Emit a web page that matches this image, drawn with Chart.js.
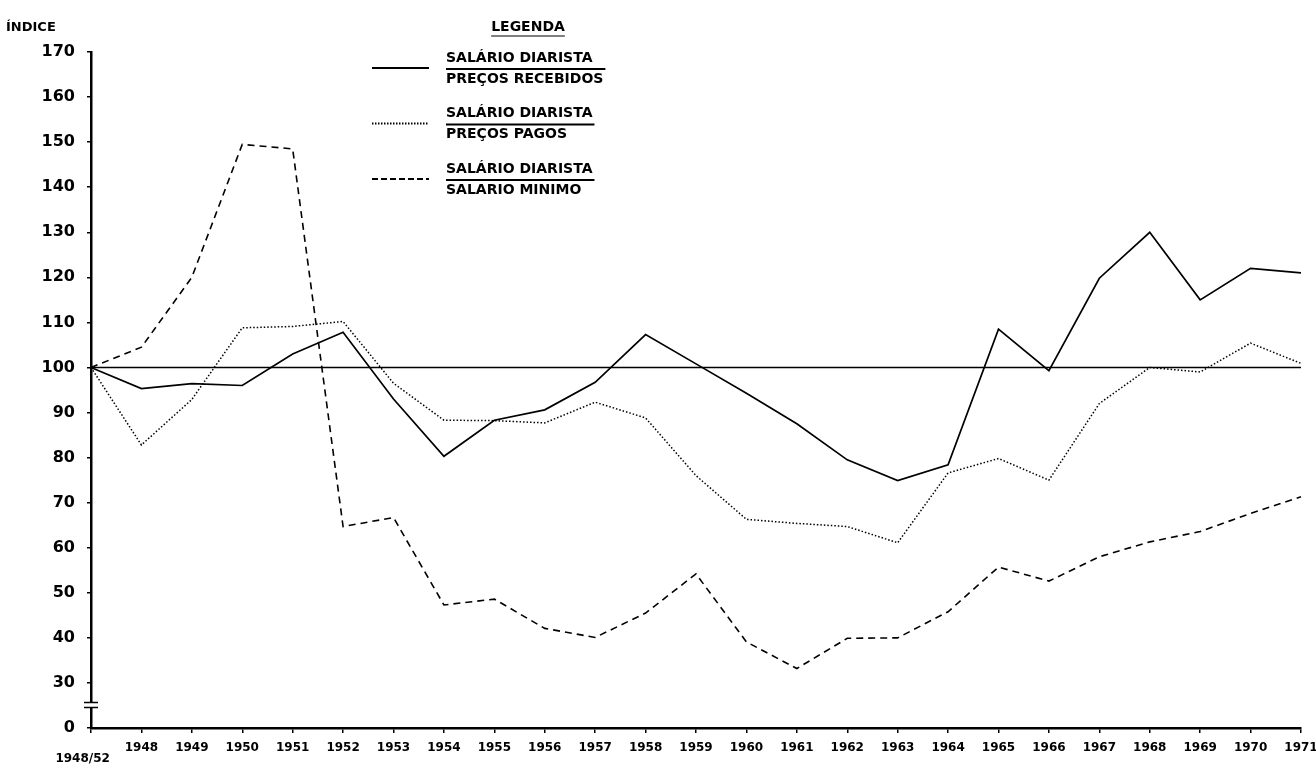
<!DOCTYPE html>
<html>
<head>
<meta charset="utf-8">
<script src="https://cdn.jsdelivr.net/npm/chart.js@4.4.1/dist/chart.umd.min.js"></script>
<style>
  html, body { margin: 0; padding: 0; background: #fff; }
  #wrap { width: 1316px; height: 770px; position: relative; }
</style>
</head>
<body>
<div id="wrap"><canvas id="grafico"></canvas></div>
<script>
// Índices (base 1948/52 = 100)
const anos = ['1948/52', '1948', '1949', '1950', '1951', '1952', '1953', '1954', '1955', '1956', '1957',
  '1958', '1959', '1960', '1961', '1962', '1963', '1964', '1965', '1966', '1967', '1968', '1969', '1970', '1971'];

const precosRecebidos = [100, 95.3, 96.4, 96, 103, 107.8, 93, 80.3, 88.3, 90.6, 96.7, 107.3, 100.8,
  94.3, 87.5, 79.5, 74.9, 78.4, 108.5, 99.3, 119.8, 130, 115, 122, 121];

const precosPagos = [100, 82.8, 92.9, 108.8, 109.1, 110.2, 96.5, 88.3, 88.2, 87.7, 92.3, 88.8, 76,
  66.3, 65.4, 64.7, 61.1, 76.6, 79.8, 75, 92, 100, 99, 105.4, 100.9];

const salarioMinimo = [100, 104.5, 120, 149.5, 148.5, 64.7, 66.7, 47.3, 48.6, 42.1, 40.1, 45.5, 54.2,
  39.1, 33.2, 39.9, 40, 45.8, 55.7, 52.6, 58, 61.3, 63.6, 67.6, 71.3];

// eixo quebrado: a posição 20 da escala é rotulada como 0
const yMin = 20;
const yMax = 170;
const linhaBase = 100;

const numeradores = ['SALÁRIO DIARISTA', 'SALÁRIO DIARISTA', 'SALÁRIO DIARISTA'];
const denominadores = ['PREÇOS RECEBIDOS', 'PREÇOS PAGOS', 'SALARIO MINIMO'];

const FONTE = "'DejaVu Sans', sans-serif";

// desenha base 100, quebra do eixo, título e legenda
const decoracao = {
  id: 'decoracao',
  beforeDatasetsDraw(chart) {
    const ctx = chart.ctx;
    const y = chart.scales.y.getPixelForValue(linhaBase);
    ctx.save();
    ctx.strokeStyle = '#000';
    ctx.lineWidth = 1.6;
    ctx.beginPath();
    ctx.moveTo(chart.chartArea.left, y);
    ctx.lineTo(chart.chartArea.right, y);
    ctx.stroke();
    ctx.restore();
  },
  afterDraw(chart) {
    const ctx = chart.ctx;
    const ax = chart.chartArea.left;
    const yq = chart.scales.y.getPixelForValue(25);
    ctx.save();
    // quebra do eixo
    ctx.fillStyle = '#fff';
    ctx.fillRect(ax - 3, yq - 2.5, 6, 5);
    ctx.strokeStyle = '#000';
    ctx.lineWidth = 1.5;
    ctx.beginPath();
    ctx.moveTo(ax - 7, yq - 3); ctx.lineTo(ax + 7, yq - 3);
    ctx.moveTo(ax - 7, yq + 2); ctx.lineTo(ax + 7, yq + 2);
    ctx.stroke();

    ctx.fillStyle = '#000';
    ctx.textBaseline = 'middle';
    ctx.textAlign = 'left';
    ctx.font = 'bold 13px ' + FONTE;
    ctx.fillText('ÍNDICE', 6, 28);

    // legenda
    ctx.font = 'bold 14px ' + FONTE;
    ctx.textAlign = 'center';
    ctx.fillText('LEGENDA', 528, 27);
    const wl = ctx.measureText('LEGENDA').width;
    ctx.lineWidth = 1.2;
    ctx.beginPath();
    ctx.moveTo(528 - wl / 2, 36); ctx.lineTo(528 + wl / 2, 36);
    ctx.stroke();

    ctx.textAlign = 'left';
    chart.data.datasets.forEach((ds, i) => {
      const yb = 68 + i * 55.5;
      ctx.setLineDash(i === 1 ? [1.5, 1.5] : (i === 2 ? [6, 3] : []));
      ctx.lineWidth = 2.2;
      ctx.beginPath();
      ctx.moveTo(372, yb); ctx.lineTo(429, yb);
      ctx.stroke();
      ctx.setLineDash([]);
      const tx = 446;
      ctx.fillText(numeradores[i], tx, yb - 10);
      ctx.fillText(denominadores[i], tx, yb + 11);
      const w = Math.max(ctx.measureText(numeradores[i]).width, ctx.measureText(denominadores[i]).width);
      ctx.lineWidth = 1.8;
      ctx.beginPath();
      ctx.moveTo(tx, yb + 1); ctx.lineTo(tx + w + 2, yb + 1);
      ctx.stroke();
    });
    ctx.restore();
  }
};

const canvas = document.getElementById('grafico');
new Chart(canvas.getContext('2d'), {
  type: 'line',
  data: {
    labels: anos.map((a, i) => i === 0 ? ['', a + '    '] : a),
    datasets: [
      {
        label: numeradores[0] + ' / ' + denominadores[0],
        data: precosRecebidos,
        borderColor: '#000',
        borderWidth: 1.7,
        borderDash: [],
        pointRadius: 0,
        tension: 0
      },
      {
        label: numeradores[1] + ' / ' + denominadores[1],
        data: precosPagos,
        borderColor: '#000',
        borderWidth: 1.5,
        borderDash: [1.5, 2],
        pointRadius: 0,
        tension: 0
      },
      {
        label: numeradores[2] + ' / ' + denominadores[2],
        data: salarioMinimo,
        borderColor: '#000',
        borderWidth: 1.6,
        borderDash: [7, 5],
        pointRadius: 0,
        tension: 0
      }
    ]
  },
  options: {
    responsive: true,
    maintainAspectRatio: false,
    animation: false,
    layout: { padding: { top: 52, right: 15, left: 0, bottom: 0 } },
    plugins: {
      legend: { display: false },
      title: { display: false },
      tooltip: { enabled: false }
    },
    scales: {
      x: {
        type: 'category',
        offset: false,
        border: { color: '#000', width: 2.5 },
        grid: { drawOnChartArea: false, drawTicks: true, tickLength: 5, color: '#000', lineWidth: 1.5 },
        ticks: {
          color: '#000',
          font: { family: FONTE, size: 12, weight: 'bold', lineHeight: 0.95 },
          padding: 9,
          maxRotation: 0,
          autoSkip: false
        },
        afterFit(s) {
          s.height = 42;
          s.paddingLeft = 0;
          s.paddingRight = 0;
        }
      },
      y: {
        min: yMin,
        max: yMax,
        border: { color: '#000', width: 2.5 },
        grid: { drawOnChartArea: false, drawTicks: true, tickLength: 4, color: '#000', lineWidth: 1.5 },
        ticks: {
          stepSize: 10,
          color: '#000',
          font: { family: FONTE, size: 16, weight: 'bold' },
          padding: 12,
          callback: v => v === yMin ? '0' : v
        },
        afterFit(s) { s.width = 91; }
      }
    }
  },
  plugins: [decoracao]
});
</script>
</body>
</html>
